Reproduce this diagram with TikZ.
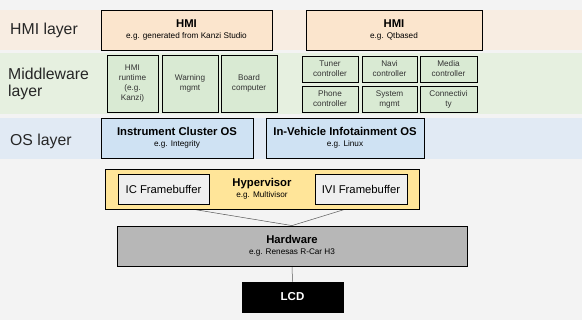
\documentclass[tikz,border=0pt]{standalone}
\usepackage{fontspec}
\setmainfont{Liberation Sans}
\usepackage{tikz}
\usetikzlibrary{positioning, backgrounds}

\definecolor{pagebg}{HTML}{F3F3F3}
\definecolor{hmiband}{HTML}{F8EDE2}
\definecolor{hmifill}{HTML}{FBE5CD}
\definecolor{mwband}{HTML}{E6F0E0}
\definecolor{mwfill}{HTML}{D9EAD3}
\definecolor{osband}{HTML}{E1EAF4}
\definecolor{osfill}{HTML}{CFE2F3}
\definecolor{hypfill}{HTML}{FFE599}
\definecolor{fbfill}{HTML}{EFEFEF}
\definecolor{hwfill}{HTML}{B7B7B7}
\definecolor{linkgray}{HTML}{555555}

\newcommand{\subtxt}[1]{{\fontsize{8.2}{9}\selectfont #1}}

\begin{document}
\begin{tikzpicture}[x=1pt, y=-1pt,
    box/.style={rectangle, draw=black, line width=0.8pt, align=center, inner sep=1pt, text centered},
    bigbox/.style={box, minimum height=40pt, font=\fontsize{11.3}{12}\selectfont\bfseries},
    smallbox/.style={box, fill=mwfill, font=\fontsize{8.2}{10}\selectfont, text=black!80},
    fbbox/.style={box, fill=fbfill, minimum width=91pt, minimum height=30pt, font=\fontsize{11.3}{12}\selectfont},
    layerlabel/.style={anchor=west, align=left, font=\fontsize{15.8}{17}\selectfont, text=black!85, inner sep=0pt},
    link/.style={draw=linkgray, line width=0.5pt}
]
% HMI layer
\node[layerlabel] (hmilabel) at (10,30) {HMI layer};
\node[bigbox, fill=hmifill, minimum width=171pt] (hmiL) at (186.5,30)
    {HMI\\[-1pt]\mdseries\subtxt{e.g. generated from Kanzi Studio}};
\node[bigbox, fill=hmifill, minimum width=176pt] (hmiR) at (394,30)
    {HMI\\[-1pt]\mdseries\subtxt{e.g. Qtbased}};

% Middleware layer
\node[layerlabel] (mwlabel) at (8,83.5) {Middleware\\layer};
\node[smallbox, minimum width=51pt, minimum height=57pt] (runtime) at (132.5,83.5) {HMI\\runtime\\(e.g.\\Kanzi)};
\node[smallbox, minimum width=56pt, minimum height=57pt] (warning) at (190,83.5) {Warning\\mgmt};
\node[smallbox, minimum width=56pt, minimum height=57pt] (board) at (249,83.5) {Board\\computer};

\node[smallbox, minimum width=56pt, minimum height=26pt] (tuner) at (330,69) {Tuner\\controller};
\node[smallbox, minimum width=55pt, minimum height=26pt] (navi) at (389.5,69) {Navi\\controller};
\node[smallbox, minimum width=57pt, minimum height=26pt] (media) at (448.5,69) {Media\\controller};
\node[smallbox, minimum width=56pt, minimum height=26pt] (phone) at (330,99) {Phone\\controller};
\node[smallbox, minimum width=55pt, minimum height=26pt] (sysmgmt) at (389.5,99) {System\\mgmt};
\node[smallbox, minimum width=57pt, minimum height=26pt] (connect) at (448.5,99) {Connectivi\\ty};

% OS layer
\node[layerlabel] (oslabel) at (10,141) {OS layer};
\node[bigbox, fill=osfill, minimum width=152pt] (osL) at (177,138)
    {Instrument Cluster OS\\[-1pt]\mdseries\subtxt{e.g. Integrity}};
\node[bigbox, fill=osfill, minimum width=158pt] (osR) at (345,138)
    {In-Vehicle Infotainment OS\\[-1pt]\mdseries\subtxt{e.g. Linux}};

% Hypervisor
\node[bigbox, fill=hypfill, minimum width=314pt] (hyp) at (262,189)
    {Hypervisor\\[-1pt]\mdseries\subtxt{e.g. Multivisor}};
\node[fbbox] (icfb) at (163.5,189) {IC Framebuffer};
\node[fbbox, minimum width=92pt] (ivifb) at (361,189) {IVI Framebuffer};

% Hardware and display
\node[bigbox, fill=hwfill, minimum width=350pt] (hw) at (292,246)
    {Hardware\\[-1pt]\mdseries\subtxt{e.g. Renesas R-Car H3}};
\node[box, fill=black, text=white, minimum width=101pt, minimum height=30pt,
    font=\fontsize{11.5}{12}\selectfont\bfseries] (lcd) at (292.5,297) {LCD};

\begin{scope}[on background layer]
\fill[pagebg] (0,0) rectangle (582,320);
\fill[hmiband] (0,10) rectangle (582,50);
\fill[mwband] (0,53) rectangle (582,114);
\fill[osband] (0,118) rectangle (582,159);
\draw[link] (icfb.south) -- (hw.north);
\draw[link] (ivifb.south) -- (hw.north);
\draw[link] (hw.south) -- (lcd.north);
\end{scope}
\end{tikzpicture}
\end{document}
